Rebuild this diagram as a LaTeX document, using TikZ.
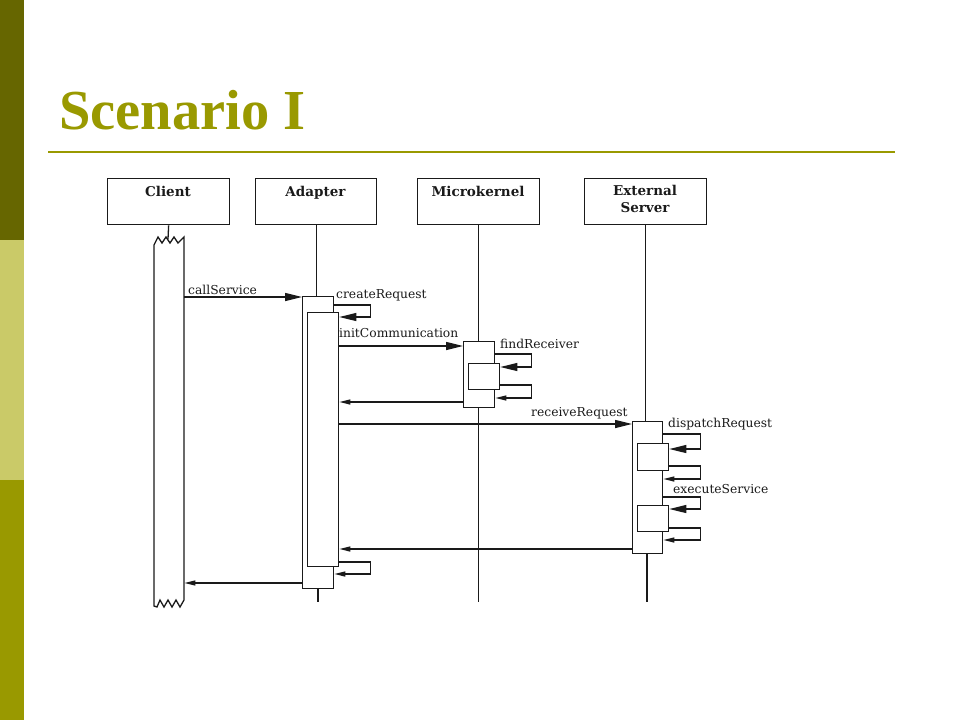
\documentclass[tikz,border=0pt]{standalone}
\usepackage{fontspec}
\setmainfont{Liberation Serif}
\newfontfamily\diafont{DejaVu Serif}
\usetikzlibrary{arrows.meta}
\definecolor{oliveA}{HTML}{666600}
\definecolor{oliveB}{HTML}{CACA68}
\definecolor{oliveC}{HTML}{999900}
\definecolor{ink}{HTML}{1A1A1A}
\begin{document}
\begin{tikzpicture}[x=1pt,y=-1pt,
  lbl/.style={font=\diafont\fontsize{12.3}{14}\selectfont, anchor=base west, inner sep=0pt, text=ink},
  hdrbox/.style={draw=ink, line width=1.3pt, anchor=north west, inner sep=0pt, minimum height=46pt},
  hdrtxt/.style={font=\diafont\bfseries\fontsize{13.5}{17}\selectfont, anchor=base, inner sep=0pt, text=ink, align=center},
  actbox/.style={draw=ink, fill=white, line width=1.3pt, anchor=north west, inner sep=0pt},
  life/.style={draw=ink, line width=1.3pt},
  callmsg/.style={draw=ink, line width=1.3pt, -{Triangle[length=17pt,width=8pt]}},
  retmsg/.style={draw=ink, line width=1.3pt, -{Triangle[length=11pt,width=5pt]}}
]
\useasboundingbox (0,0) rectangle (960,720);
% side bar
\fill[oliveA] (0,0) rectangle (24,240);
\fill[oliveB] (0,240) rectangle (24,480);
\fill[oliveC] (0,480) rectangle (24,720);
% title
\node[anchor=base west, inner sep=0pt, text=oliveC, font=\bfseries\fontsize{56.5}{60}\selectfont] (title) at (59,129) {Scenario I};
\draw[oliveC, line width=2pt] (48,152) -- (895,152);

% header boxes
\node[hdrbox, minimum width=122pt] (clientH) at (107,178) {};
\node[hdrbox, minimum width=121pt] (adapterH) at (255,178) {};
\node[hdrbox, minimum width=122pt] (mkH) at (417,178) {};
\node[hdrbox, minimum width=122pt] (esH) at (584,178) {};
\node[hdrtxt] (clientT) at (168,196) {Client};
\node[hdrtxt] (adapterT) at (315.5,196) {Adapter};
\node[hdrtxt] (mkT) at (478,196) {Microkernel};
\node[hdrtxt] (esT1) at (645,195) {External};
\node[hdrtxt] (esT2) at (645,212) {Server};

% activation boxes (geometry)
\node[minimum width=30pt, minimum height=363pt, anchor=north west, inner sep=0pt] (clientB) at (154,240) {};
\coordinate (clientTop) at (168,239);
\coordinate (adEnd) at (318,602);
\coordinate (mkEnd) at (478.5,602);
\coordinate (esEnd) at (647,602);

% lifelines
\draw[life] (clientH.south) -- (clientTop);
\draw[life] (adapterH.south) -- (adapterH.south |- 0,296);
\draw[life] (mkH.south) -- (mkH.south |- 0,341);
\draw[life] (esH.south) -- (esH.south |- 0,421);
\draw[life] (318,588) -- (adEnd);
\draw[life] (478.5,407) -- (mkEnd);
\draw[life] (647,553) -- (esEnd);

% client bar with broken ends
\draw[draw=ink, fill=white, line width=1.3pt, line join=miter]
  (154,606) -- (154,245) -- (158,237) -- (162,243) -- (166,237) -- (170,243)
  -- (174,237) -- (178,243) -- (184,237) -- (184,600) -- (180,607) -- (176,600)
  -- (172,607) -- (168,600) -- (164,607) -- (160,600) -- (157,607) -- cycle;

% adapter activations
\node[actbox, minimum width=31pt, minimum height=292pt] (adOut) at (302,296) {};
\node[actbox, minimum width=31pt, minimum height=254pt] (adIn) at (307,312) {};
% microkernel activations
\node[actbox, minimum width=31pt, minimum height=66pt] (mkOut) at (463,341) {};
\node[actbox, minimum width=31pt, minimum height=26pt] (mkIn) at (468,363) {};
% external server activations
\node[actbox, minimum width=30pt, minimum height=132pt] (esOut) at (632,421) {};
\node[actbox, minimum width=31pt, minimum height=27pt] (esIn1) at (637,443) {};
\node[actbox, minimum width=31pt, minimum height=26pt] (esIn2) at (637,505) {};

% messages
\draw[callmsg] (clientB.east |- 0,297) -- (adOut.west |- 0,297);
\draw[callmsg] (adOut.east |- 0,305) -- ++(36,0) |- (adIn.east |- 0,317);
\draw[callmsg] (adIn.east |- 0,346) -- (mkOut.west |- 0,346);
\draw[callmsg] (mkOut.east |- 0,354) -- ++(36,0) |- (mkIn.east |- 0,367);
\draw[retmsg] (mkIn.east |- 0,385) -- ++(31,0) |- (mkOut.east |- 0,398);
\draw[retmsg] (mkOut.west |- 0,402) -- (adIn.east |- 0,402);
\draw[callmsg] (adIn.east |- 0,424) -- (esOut.west |- 0,424);
\draw[callmsg] (esOut.east |- 0,434) -- ++(37,0) |- (esIn1.east |- 0,449);
\draw[retmsg] (esIn1.east |- 0,466) -- ++(31,0) |- (esOut.east |- 0,479);
\draw[callmsg] (esOut.east |- 0,497) -- ++(37,0) |- (esIn2.east |- 0,509);
\draw[retmsg] (esIn2.east |- 0,528) -- ++(31,0) |- (esOut.east |- 0,540);
\draw[retmsg] (esOut.west |- 0,549) -- (adIn.east |- 0,549);
\draw[retmsg] (adIn.east |- 0,562) -- ++(31,0) |- (adOut.east |- 0,574);
\draw[retmsg] (adOut.west |- 0,583) -- (clientB.east |- 0,583);

% labels
\node[lbl] (l1) at (188,294) {callService};
\node[lbl] (l2) at (336,298) {createRequest};
\node[lbl] (l3) at (339,337) {initCommunication};
\node[lbl] (l4) at (500,348) {findReceiver};
\node[lbl] (l5) at (531,416) {receiveRequest};
\node[lbl] (l6) at (668,427) {dispatchRequest};
\node[lbl] (l7) at (673,493) {executeService};
\end{tikzpicture}
\end{document}
